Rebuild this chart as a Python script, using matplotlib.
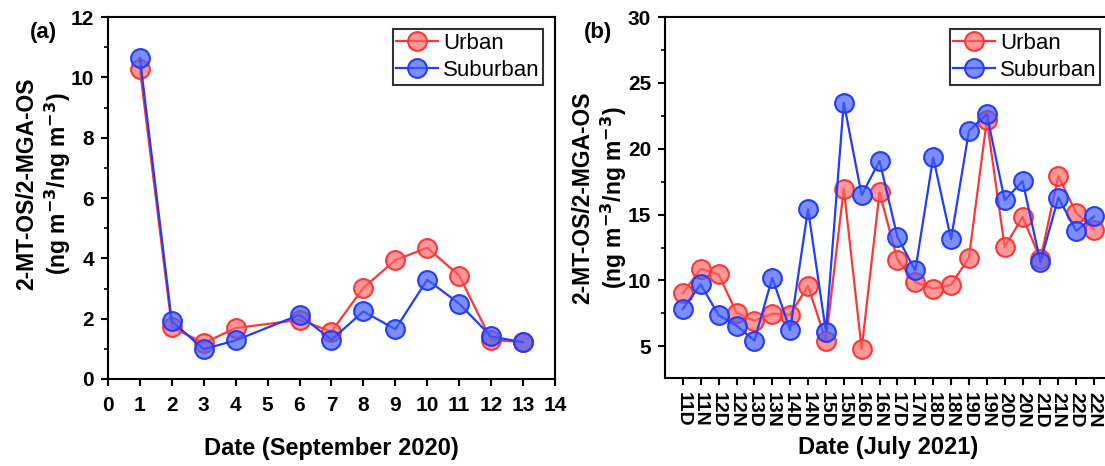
import matplotlib.pyplot as plt
from matplotlib.ticker import MultipleLocator

plt.rcParams['font.family'] = ['Liberation Sans', 'DejaVu Sans']
plt.rcParams['font.weight'] = 'bold'
plt.rcParams['mathtext.default'] = 'bf'

# panel (a): September 2020
days_a = [1, 2, 3, 4, 6, 7, 8, 9, 10, 11, 12, 13]
urban_a = [10.28, 1.72, 1.19, 1.69, 1.96, 1.57, 3.02, 3.94, 4.35, 3.43, 1.30, 1.22]
suburban_a = [10.64, 1.91, 0.99, 1.28, 2.13, 1.30, 2.24, 1.65, 3.29, 2.50, 1.41, 1.22]

# panel (b): July 2021, day / night samples
labels_b = ['11D', '11N', '12D', '12N', '13D', '13N', '14D', '14N', '15D', '15N',
            '16D', '16N', '17D', '17N', '18D', '18N', '19D', '19N', '20D', '20N',
            '21D', '21N', '22D', '22N']
urban_b = [9.04, 10.89, 10.46, 7.54, 6.95, 7.46, 7.41, 9.57, 5.43, 16.98,
           4.80, 16.68, 11.57, 9.87, 9.37, 9.67, 11.73, 22.18, 12.54, 14.82,
           11.62, 17.92, 15.13, 13.86]
suburban_b = [7.84, 9.70, 7.36, 6.57, 5.43, 10.20, 6.24, 15.41, 6.12, 23.50,
              16.47, 19.09, 13.30, 10.76, 19.34, 13.12, 21.35, 22.64, 16.09, 17.54,
              11.40, 16.29, 13.76, 14.87]

red = '#ff3535'
red_fill = (1.0, 0.40, 0.40, 0.68)
blue = '#1f3cff'
blue_fill = (0.27, 0.37, 1.0, 0.7)

fig = plt.figure(figsize=(11.05, 4.66), dpi=100)
ax1 = fig.add_axes([0.0977, 0.1867, 0.4045, 0.7768])
ax2 = fig.add_axes([0.6018, 0.189, 0.4045, 0.7745])

ylabel = '2-MT-OS/2-MGA-OS\n(ng m$^{-3}$/ng m$^{-3}$)'


def draw(ax, x, u, s):
    ax.plot(x, u, '-o', color=red, lw=1.6, ms=13.5, mfc=red_fill, mec=red, mew=1.5,
            label='Urban')
    ax.plot(x, s, '-o', color=blue, lw=1.6, ms=13.5, mfc=blue_fill, mec=blue, mew=1.5,
            label='Suburban')
    for sp in ax.spines.values():
        sp.set_linewidth(1.5)
    ax.tick_params(which='major', direction='out', length=5, width=1.5, labelsize=15)
    ax.tick_params(which='minor', direction='out', length=3, width=1.2)
    leg = ax.legend(loc='upper right', fontsize=16, frameon=True, fancybox=False,
                    borderpad=0.15, handlelength=1.9, handletextpad=0.2,
                    labelspacing=0.3, borderaxespad=0.55)
    leg.get_frame().set_edgecolor('black')
    leg.get_frame().set_linewidth(1.5)
    for t in leg.get_texts():
        t.set_fontweight('normal')


draw(ax1, days_a, urban_a, suburban_a)
ax1.set_xlim(0, 14)
ax1.set_ylim(0, 12)
ax1.xaxis.set_major_locator(MultipleLocator(1))
ax1.yaxis.set_major_locator(MultipleLocator(2))
ax1.yaxis.set_minor_locator(MultipleLocator(1))
ax1.tick_params(axis='x', pad=7)
ax1.tick_params(axis='y', pad=5)
ax1.set_xlabel('Date (September 2020)', fontsize=17, fontweight='bold')
ax1.xaxis.set_label_coords(0.5, -0.16)
ax1.set_ylabel(ylabel, fontsize=16.5, fontweight='bold')
ax1.yaxis.set_label_coords(-0.079, 0.54)
fig.text(0.027, 0.918, '(a)', fontsize=16, fontweight='bold')

pos_b = list(range(1, len(labels_b) + 1))
draw(ax2, pos_b, urban_b, suburban_b)
ax2.set_xlim(0, 25)
ax2.set_ylim(2.6, 30)
ax2.set_xticks(pos_b)
ax2.set_xticklabels(labels_b, rotation=-90, fontsize=14)
ax2.tick_params(axis='x', pad=5)
ax2.tick_params(axis='y', pad=5)
ax2.yaxis.set_major_locator(MultipleLocator(5))
ax2.yaxis.set_minor_locator(MultipleLocator(2.5))
ax2.set_xlabel('Date (July 2021)', fontsize=17, fontweight='bold')
ax2.xaxis.set_label_coords(0.5, -0.16)
ax2.set_ylabel(ylabel, fontsize=16.5, fontweight='bold')
ax2.yaxis.set_label_coords(-0.08, 0.5)
fig.text(0.528, 0.918, '(b)', fontsize=16, fontweight='bold')

fig.savefig('out.png', dpi=100)
